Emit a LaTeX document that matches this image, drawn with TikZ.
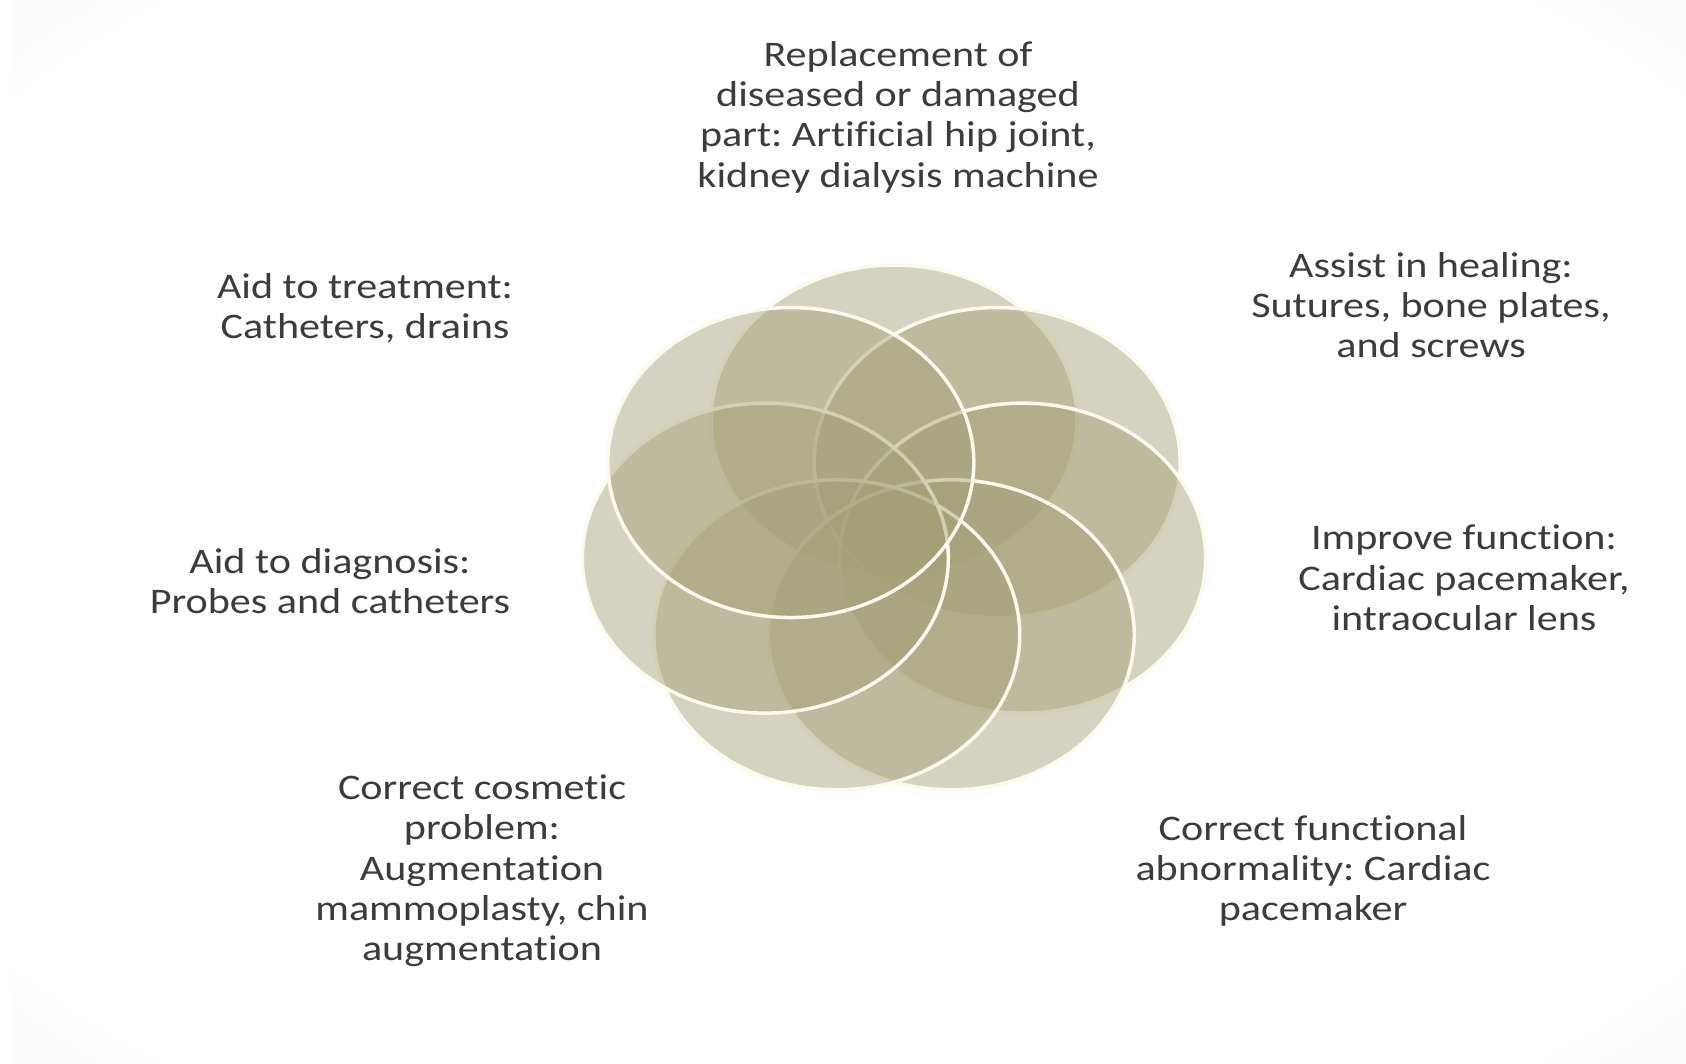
\documentclass[tikz,border=0pt]{standalone}
\usepackage{fontspec}
\setmainfont{Carlito}[FakeStretch=1.17,Ligatures=NoCommon]
\definecolor{petalcol}{RGB}{163,159,118}
\definecolor{rimcol}{RGB}{252,250,236}
\definecolor{txtcol}{RGB}{60,60,60}
\pgfdeclareradialshading{vign}{\pgfpoint{0bp}{0bp}}{color(0bp)=(white); color(32bp)=(white); color(50bp)=(black!11); color(72bp)=(black!19)}
\tikzset{
  petal/.style={fill=petalcol, fill opacity=0.46, draw=rimcol, draw opacity=1, line width=3.5pt},
  desc/.style={align=center, text=txtcol, font=\fontsize{36}{40.3}\selectfont\frenchspacing, inner sep=0pt},
}
\begin{document}
\begin{tikzpicture}[x=1pt,y=-1pt]
\useasboundingbox (0,0) rectangle (1686,1064);
\shade[shading=vign] (12,0) rectangle (1686,1064);
% seven overlapping petals, drawn clockwise from the top one
\foreach \a in {90, 38.571, -12.857, -64.286, -115.714, -167.143, -218.571} {
  \path[petal] ({894+132*cos(\a)},{533-113*sin(\a)}) ellipse [x radius=183, y radius=155];
}
\node[desc] (repl) at (898,117) {Replacement of\\diseased or damaged\\part: Artificial hip joint,\\kidney dialysis machine};
\node[desc] (treat) at (365,308) {Aid to treatment:\\Catheters, drains};
\node[desc] (diag) at (330,581) {Aid to diagnosis:\\Probes and catheters};
\node[desc] (cosm) at (482,871) {Correct cosmetic\\problem:\\Augmentation\\mammoplasty, chin\\augmentation};
\node[desc] (heal) at (1431,305) {Assist in healing:\\Sutures, bone plates,\\and screws};
\node[desc] (impr) at (1464,578) {Improve function:\\Cardiac pacemaker,\\intraocular lens};
\node[desc] (func) at (1313,871) {Correct functional\\abnormality: Cardiac\\pacemaker};
\end{tikzpicture}
\end{document}
